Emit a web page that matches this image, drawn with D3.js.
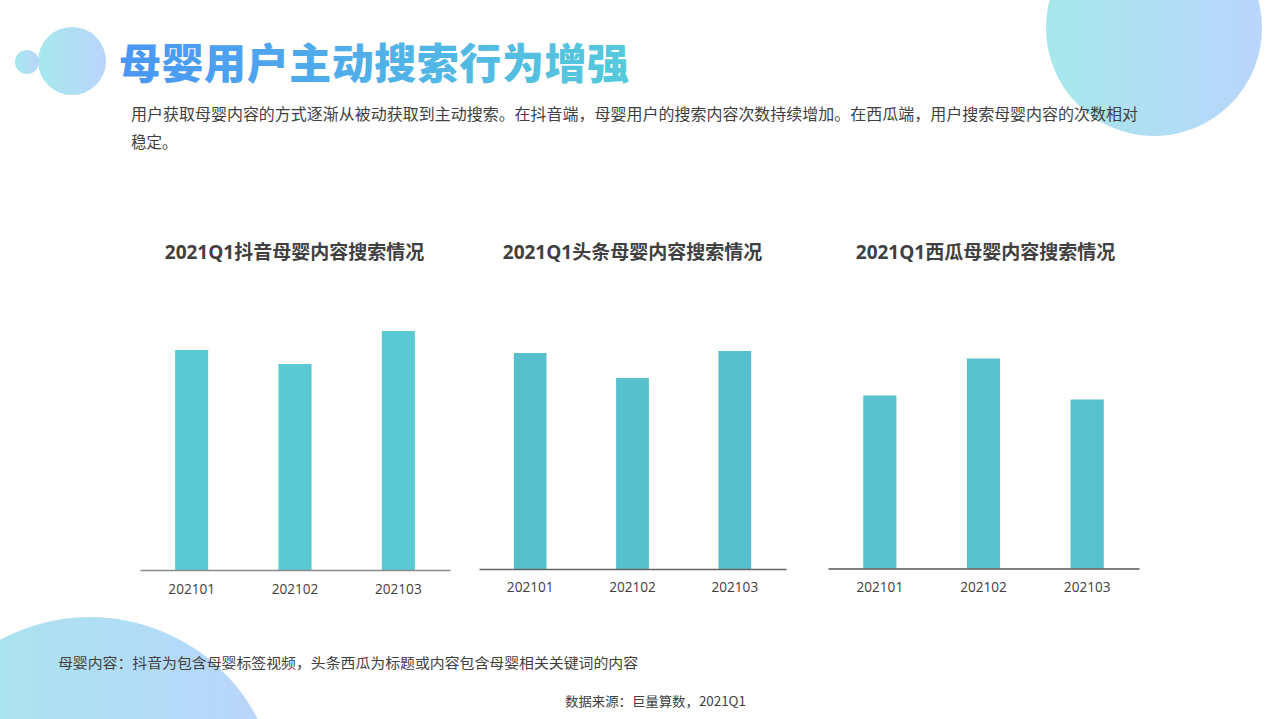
<!DOCTYPE html>
<html>
<head>
<meta charset="utf-8">
<script src="https://cdn.jsdelivr.net/npm/d3@7"></script>
<style>
  html, body { margin: 0; padding: 0; background: #fff; }
  svg { display: block; }
</style>
</head>
<body>
<svg id="chart" width="1279" height="719"></svg>
<script>
// ---------- data ----------
const categories = ["202101", "202102", "202103"];
const douyinValues = [220, 206, 239];   // relative index
const toutiaoValues = [216, 191, 218];
const xiguaValues = [173, 210, 169];
const chartTitles = ["2021Q1抖音母婴内容搜索情况", "2021Q1头条母婴内容搜索情况", "2021Q1西瓜母婴内容搜索情况"];
const pageTitle = "母婴用户主动搜索行为增强";
const introLines = ["用户获取母婴内容的方式逐渐从被动获取到主动搜索。在抖音端，母婴用户的搜索内容次数持续增加。在西瓜端，用户搜索母婴内容的次数相对", "稳定。"];
const noteText = "母婴内容：抖音为包含母婴标签视频，头条西瓜为标题或内容包含母婴相关关键词的内容";
const sourceText = "数据来源：巨量算数，2021Q1";

// ---------- setup ----------
const svg = d3.select("#chart");
const CJK = "'Noto Sans CJK SC', 'Noto Sans', sans-serif";
const LATIN = "'Open Sans', 'Noto Sans CJK SC', sans-serif";

const defs = svg.append("defs");
const bubble = defs.append("linearGradient").attr("id", "bubble").attr("x1", "0").attr("x2", "1").attr("y1", "0").attr("y2", "0");
bubble.append("stop").attr("offset", "0").attr("stop-color", "#a6e8ec");
bubble.append("stop").attr("offset", "1").attr("stop-color", "#b9d5fb");
const titleGrad = defs.append("linearGradient").attr("id", "titleGrad").attr("x1", "0").attr("x2", "1").attr("y1", "0").attr("y2", "0");
titleGrad.append("stop").attr("offset", "0").attr("stop-color", "#4a96f6");
titleGrad.append("stop").attr("offset", "1").attr("stop-color", "#56cadb");

// decorative bubbles
svg.append("circle").attr("cx", 1154).attr("cy", 28).attr("r", 108).attr("fill", "url(#bubble)");
svg.append("circle").attr("cx", 90).attr("cy", 806).attr("r", 189).attr("fill", "url(#bubble)");
svg.append("circle").attr("cx", 72).attr("cy", 61).attr("r", 34).attr("fill", "url(#bubble)");
svg.append("circle").attr("cx", 27).attr("cy", 62).attr("r", 12).attr("fill", "url(#bubble)");

// page title
svg.append("text").attr("x", 119).attr("y", 79)
  .attr("font-family", CJK).attr("font-weight", 900).attr("font-size", 42)
  .attr("textLength", 510).attr("lengthAdjust", "spacing")
  .attr("fill", "url(#titleGrad)").text(pageTitle);

// intro paragraph
introLines.forEach((line, i) => {
  const t = svg.append("text").attr("x", 131).attr("y", 120 + i * 28)
    .attr("font-family", CJK).attr("font-size", 15.5).attr("fill", "#404040").text(line);
  if (i === 0) t.attr("textLength", 1007).attr("lengthAdjust", "spacingAndGlyphs");
});

// ---------- charts ----------
const charts = [
  { title: chartTitles[0], values: douyinValues, x0: 140, x1: 450, base: 570, label: 595, color: "#59c9d4", axis: "#8a8a8a", tx: 294.5 },
  { title: chartTitles[1], values: toutiaoValues, x0: 479, x1: 786, base: 569, label: 593, color: "#56c0cc", axis: "#666", tx: 632.5 },
  { title: chartTitles[2], values: xiguaValues, x0: 828, x1: 1139, base: 568.5, label: 593, color: "#57c2ce", axis: "#555", tx: 985.5 }
];

charts.forEach(c => {
  const g = svg.append("g");
  const x = d3.scaleBand().domain(categories).range([c.x0, c.x1]).padding(0);
  const y = d3.scaleLinear().domain([0, 250]).range([c.base, c.base - 250]);
  const bw = x.bandwidth() * 0.32;

  g.selectAll("rect").data(c.values).join("rect")
    .attr("x", (d, i) => x(categories[i]) + x.bandwidth() / 2 - bw / 2)
    .attr("width", bw)
    .attr("y", d => y(d))
    .attr("height", d => y(0) - y(d))
    .attr("fill", c.color);

  const axis = g.append("g").attr("transform", `translate(0,${c.base})`)
    .call(d3.axisBottom(x).tickSize(0).tickPadding(c.label - c.base - 10.5));
  axis.select(".domain").attr("stroke", c.axis).attr("stroke-width", 1.5);
  axis.selectAll("text").attr("font-family", LATIN).attr("font-size", 13.6).attr("fill", "#404040");

  g.append("text").attr("x", c.tx).attr("y", 259)
    .attr("text-anchor", "middle").attr("font-family", LATIN).attr("font-weight", 700)
    .attr("font-size", 19).attr("fill", "#404040").text(c.title);
});

// footnotes
svg.append("text").attr("x", 58).attr("y", 668)
  .attr("font-family", CJK).attr("font-size", 13.5).attr("fill", "#404040")
  .attr("textLength", 580).attr("lengthAdjust", "spacingAndGlyphs").text(noteText);
svg.append("text").attr("x", 565).attr("y", 706)
  .attr("font-family", CJK).attr("font-size", 13).attr("fill", "#404040")
  .attr("textLength", 181).attr("lengthAdjust", "spacingAndGlyphs").text(sourceText);
</script>
</body>
</html>
